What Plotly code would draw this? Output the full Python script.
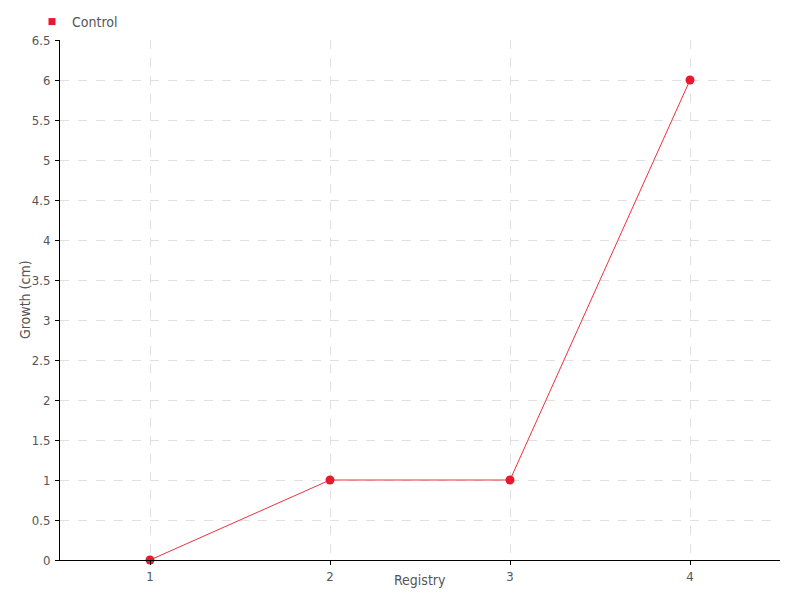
import plotly.graph_objects as go

registry = [1, 2, 3, 4]
growth = [0, 1, 1, 6]
series_name = "Control"
x_title = "Registry"
y_title = "Growth (cm)"
y_ticks = [0, 0.5, 1, 1.5, 2, 2.5, 3, 3.5, 4, 4.5, 5, 5.5, 6, 6.5]
y_tick_labels = ["0", "0.5", "1", "1.5", "2", "2.5", "3", "3.5", "4", "4.5", "5", "5.5", "6", "6.5"]

red = "#e8192c"
font = "DejaVu Sans Condensed, Liberation Sans Narrow, sans-serif"
text_color = "#555"

fig = go.Figure()
fig.add_trace(go.Scatter(
    x=registry, y=growth, mode="lines+markers", name=series_name,
    line=dict(color="#f0303f", width=1),
    marker=dict(color=red, size=9),
    showlegend=False, cliponaxis=False,
))
fig.add_trace(go.Scatter(
    x=[None], y=[None], mode="markers", name=series_name,
    marker=dict(color=red, size=7, symbol="square"),
    showlegend=True,
))

axis_common = dict(
    showline=True, linecolor="#000", linewidth=1,
    ticks="outside", ticklen=4, tickcolor="#000",
    showgrid=True, gridcolor="#e0e0e0", griddash="dash", gridwidth=1,
    zeroline=False,
    tickfont=dict(family=font, size=13, color=text_color),
)

fig.update_layout(
    width=800, height=600,
    margin=dict(l=60, r=20, t=40, b=40, autoexpand=False),
    plot_bgcolor="white", paper_bgcolor="white",
    font=dict(family=font, size=14, color=text_color),
    xaxis=dict(
        range=[0.5, 4.5], tickvals=registry, ticktext=[str(v) for v in registry],
        **axis_common,
    ),
    yaxis=dict(
        range=[0, 6.5], tickvals=y_ticks, ticktext=y_tick_labels,
        ticklabelstandoff=2,
        **axis_common,
    ),
    legend=dict(
        xref="container", yref="container", x=0.04, y=0.99,
        xanchor="left", yanchor="top", itemwidth=30,
        font=dict(family=font, size=14, color=text_color),
        bgcolor="rgba(0,0,0,0)",
    ),
    annotations=[
        dict(text=x_title, xref="paper", yref="paper", x=0.5, y=-0.0385,
             xanchor="center", yanchor="middle", showarrow=False,
             font=dict(family=font, size=14, color=text_color)),
        dict(text=y_title, xref="paper", yref="paper", x=-0.0486, y=0.5,
             xanchor="center", yanchor="middle", textangle=-90, showarrow=False,
             font=dict(family=font, size=14, color=text_color)),
    ],
)

fig.write_html("out.html", config={"displayModeBar": False},
               post_script="document.body.style.margin='0';")
